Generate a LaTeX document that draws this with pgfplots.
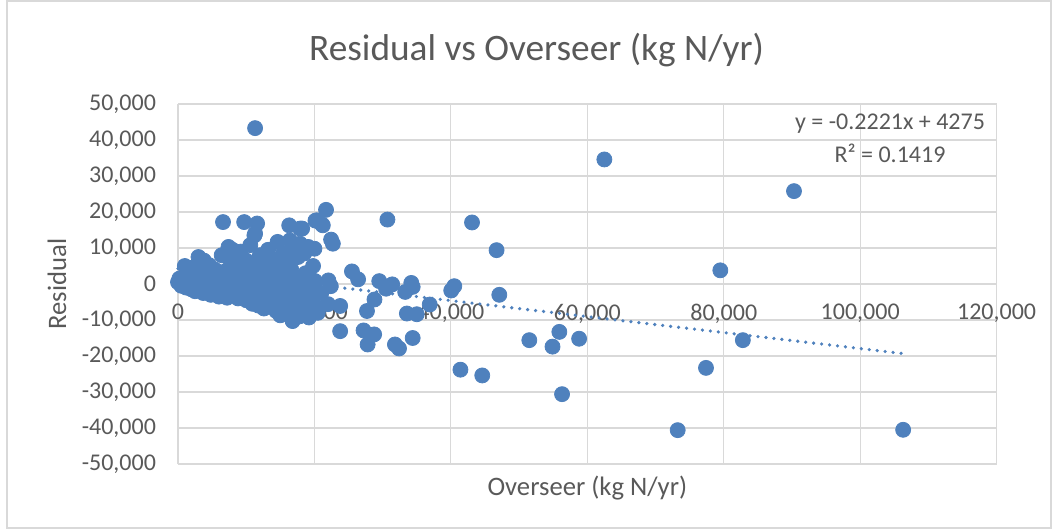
\documentclass[border=0pt]{standalone}
\usepackage{pgfplots}
\pgfplotsset{compat=1.18}
\usepackage{fontspec}
\setmainfont{Carlito}
\definecolor{mk}{RGB}{79,129,189}
\definecolor{txt}{RGB}{89,89,89}
\definecolor{grd}{RGB}{217,217,217}
\begin{document}
\begin{tikzpicture}
\useasboundingbox (0pt,0pt) rectangle (526.5pt,265pt);
\draw[grd, line width=0.6pt] (3.5pt,1pt) rectangle (525.5pt,264.5pt);
\node[text=txt, font=\fontsize{18.67}{22}\selectfont, anchor=center] at (268.25pt,240pt) {Residual vs Overseer (kg N/yr)};
\begin{axis}[
  at={(89pt,33pt)}, anchor=south west,
  scale only axis, width=409.3pt, height=180pt,
  xmin=0, xmax=120000, ymin=-50000, ymax=50000,
  xtick={0,20000,40000,60000,80000,100000,120000},
  ytick={-50000,-40000,-30000,-20000,-10000,0,10000,20000,30000,40000,50000},
  scaled ticks=false,
  axis x line=middle, axis y line=left,
  hide obscured x ticks=false, hide obscured y ticks=false,
  axis line style={-, draw=grd, line width=0.6pt},
  grid=major, major grid style={draw=grd, line width=0.6pt},
  major tick length=0pt,
  /pgf/number format/.cd, fixed, precision=0, 1000 sep={,}, assume math mode=true,
  /pgfplots/.cd,
  tick label style={text=txt, font=\fontsize{12}{14}\selectfont},
  xticklabel style={anchor=north, yshift=-6.5pt},
  yticklabel style={anchor=east, xshift=-7.5pt},
  every axis x label/.style={at={(rel axis cs:0.5,0)}, anchor=center, yshift=-12pt, text=txt, font=\fontsize{13.33}{16}\selectfont},
  every axis y label/.style={at={(rel axis cs:0,0.5)}, xshift=-60.5pt, anchor=center, rotate=90, text=txt, font=\fontsize{13.33}{16}\selectfont},
  xlabel={Overseer (kg N/yr)},
  ylabel={Residual},
  clip=false,
]
\addplot[only marks, mark=*, mark size=3.75pt, mark options={fill=mk, draw=mk}] table {
x y
0 500
200 1500
500 -500
800 1000
1000 5000
1200 -1000
1500 2500
1800 300
2000 -1500
2000 4500
2300 1200
2500 -2000
2700 3000
3000 7500
3200 5000
3300 -500
3500 2000
3700 -2500
3800 6500
4000 800
4200 -1200
4400 3500
4600 5200
4800 -3000
5000 1500
5200 -500
5400 4000
5600 -2000
5800 2500
6000 -3500
6200 100
6400 8000
6600 17200
6700 -1500
6900 3500
7100 8500
7200 -3800
7400 10300
7500 1000
7700 6000
7900 -2500
8000 4000
8000 9500
8300 -1000
8500 7500
8600 2000
8800 -4000
9000 5500
9200 9000
9400 -2000
9500 3000
9700 17200
9800 0
10000 -4500
10000 6500
10200 1500
10400 -3000
10600 10800
10700 4500
10900 -5500
11000 2500
11200 13500
11300 43300
11300 14000
11500 -1500
11600 16800
11700 5500
11800 -6000
12000 8000
12000 0
12200 3000
12400 -4000
12600 -6800
12700 6000
12900 1500
13000 -2500
13200 9500
13300 4000
13500 -5000
13700 0
13800 7000
14000 -3500
14200 2500
14400 -7500
14600 11700
14700 5000
14900 -1000
15000 -8700
15200 3000
15400 8500
15500 -5500
15700 1000
15800 6000
16000 -3000
16300 16300
16400 12100
16500 -7000
16600 4000
16800 -10300
16900 9500
17000 -1500
17200 2000
17400 -5500
17600 7500
17800 -9000
17900 15400
17900 11200
18000 0
18200 15400
18300 -3500
18340 -6400
18500 8500
18700 3000
18900 -6500
19100 10300
19200 -9300
19400 1500
19600 -2000
19800 5000
19850 -5400
20000 9800
20100 800
20100 -6400
20150 17600
20350 17700
20500 -8000
21000 -2500
21080 16580
21230 16300
21700 20600
22000 -5600
22050 1000
22400 -600
22440 12330
22700 11200
23770 -6100
23770 -13100
25500 3500
26400 1300
27200 -12900
27700 -7500
27800 -16800
28750 -14000
28800 -4300
29500 800
30500 -1300
30700 17900
31400 -100
31800 -16800
32400 -17900
33300 -2200
33550 -8200
34200 300
34400 -800
34400 -15000
35000 -8400
36900 -5700
40050 -1800
40500 -600
41400 -23800
43100 17100
44600 -25400
46700 9400
47100 -3000
51500 -15600
54900 -17400
55900 -13300
56300 -30600
58800 -15200
62500 34600
73250 -40600
77400 -23300
79500 3800
82800 -15600
90300 25800
106300 -40500
};
\addplot[mk, line width=1.8pt, line cap=round, dash pattern=on 0pt off 4pt] coordinates {(0,4275) (106300,-19334)};
\node[text=txt, font=\fontsize{12}{14}\selectfont, anchor=center] at (axis cs:104380,44560) {y = -0.2221x + 4275};
\node[text=txt, font=\fontsize{12}{14}\selectfont, anchor=center] at (axis cs:104380,36220) {R² = 0.1419};
\end{axis}
\end{tikzpicture}
\end{document}
